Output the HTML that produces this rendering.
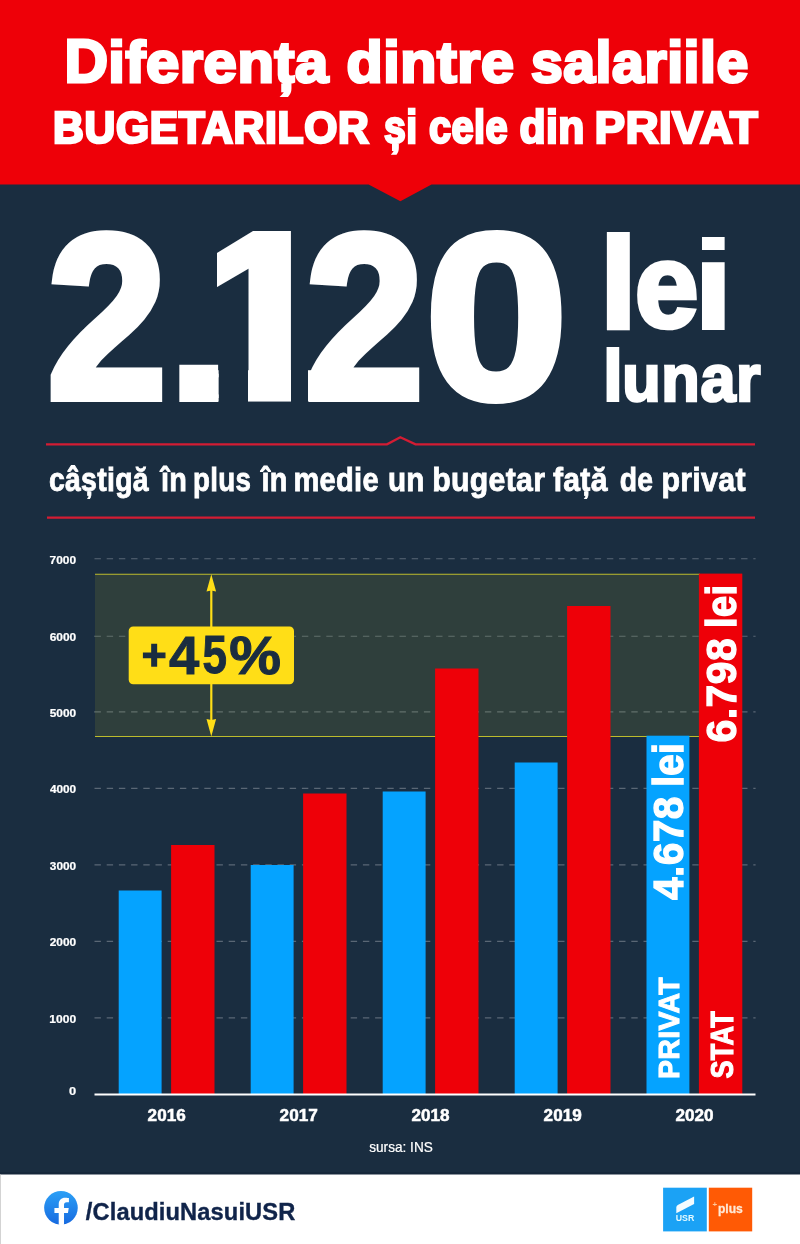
<!DOCTYPE html>
<html lang="ro"><head><meta charset="utf-8"><title>Diferența dintre salariile bugetarilor și cele din privat</title>
<style>
html,body{margin:0;padding:0;background:#1a2d40;}
body{width:800px;height:1244px;overflow:hidden;}
svg{display:block;font-family:"Liberation Sans",Arial,Helvetica,sans-serif;font-weight:bold;}
</style></head><body>
<svg width="800" height="1244" viewBox="0 0 800 1244">
<rect width="800" height="1244" fill="#1a2d40"/>
<!-- header -->
<path d="M0 0H800V184.6H431.5L400.4 201.3L368.6 184.6H0Z" fill="#ee0008"/>
<text fill="#fff" stroke="#fff" stroke-linejoin="miter"><tspan x="64.39" y="81.96" font-size="61.62" textLength="43.55" lengthAdjust="spacingAndGlyphs" stroke-width="3.08">D</tspan><tspan x="108.21" y="82.06" font-size="57.59" textLength="220.74" lengthAdjust="spacingAndGlyphs" stroke-width="2.88" letter-spacing="0.58">iferența</tspan> <tspan x="346.51" y="82.06" font-size="57.59" textLength="168.04" lengthAdjust="spacingAndGlyphs" stroke-width="2.88" letter-spacing="0.58">dintre</tspan> <tspan x="530.93" y="82.06" font-size="57.59" textLength="217.94" lengthAdjust="spacingAndGlyphs" stroke-width="2.88" letter-spacing="0.58">salariile</tspan></text>
<text fill="#fff" stroke="#fff" stroke-linejoin="miter"><tspan x="53.1" y="142.65" font-size="45.07" textLength="316.22" lengthAdjust="spacingAndGlyphs" stroke-width="2.7" letter-spacing="0.68">BUGETARILOR</tspan> <tspan x="384" y="142.98" font-size="45.6" textLength="33.41" lengthAdjust="spacingAndGlyphs" stroke-width="2.51" letter-spacing="0.46">și</tspan> <tspan x="429" y="142.98" font-size="45.6" textLength="79.01" lengthAdjust="spacingAndGlyphs" stroke-width="2.51" letter-spacing="0.46">cele</tspan> <tspan x="519.43" y="142.98" font-size="45.6" textLength="65.4" lengthAdjust="spacingAndGlyphs" stroke-width="2.51" letter-spacing="0.46">din</tspan> <tspan x="594.84" y="142.65" font-size="45.07" textLength="163.45" lengthAdjust="spacingAndGlyphs" stroke-width="2.7" letter-spacing="0.68">PRIVAT</tspan></text>
<!-- big number -->
<clipPath id="c1"><path clip-rule="evenodd" d="M0 205H800V430H0Z M218.6 340H248V415H218.6Z M291 340H308V415H291Z M190 225H217V300H190Z"/></clipPath>
<text fill="#fff" stroke="#fff" stroke-linejoin="miter" clip-path="url(#c1)"><tspan x="46.9" y="398.09" font-size="234.55" textLength="120.03" lengthAdjust="spacingAndGlyphs" stroke-width="8.21">2</tspan><tspan x="160.63" y="402" font-size="250" textLength="76.57" lengthAdjust="spacingAndGlyphs" stroke="none">.</tspan><tspan x="193.32" y="398.04" font-size="237.5" textLength="140.88" lengthAdjust="spacingAndGlyphs" stroke-width="7.12">1</tspan><tspan x="305.14" y="398.09" font-size="234.55" textLength="118.74" lengthAdjust="spacingAndGlyphs" stroke-width="8.21">2</tspan><tspan x="424.47" y="398.2" font-size="235.79" textLength="143.81" lengthAdjust="spacingAndGlyphs" stroke-width="7.07">0</tspan></text>
<text fill="#fff" stroke="#fff" stroke-linejoin="miter"><tspan x="595.32" y="330" font-size="135.55" textLength="46.36" lengthAdjust="spacingAndGlyphs" stroke="none">l</tspan><tspan x="634.92" y="327.46" font-size="117.95" textLength="63.34" lengthAdjust="spacingAndGlyphs" stroke-width="4.72">e</tspan><tspan x="690.48" y="330" font-size="127.98" textLength="45.75" lengthAdjust="spacingAndGlyphs" stroke="none">i</tspan></text>
<text fill="#fff" stroke="#fff" stroke-linejoin="miter"><tspan x="600.2" y="402" font-size="75.69" textLength="25.41" lengthAdjust="spacingAndGlyphs" stroke="none">l</tspan><tspan x="622.27" y="400.52" font-size="65.86" textLength="138.96" lengthAdjust="spacingAndGlyphs" stroke-width="2.63" letter-spacing="0.66">unar</tspan></text>
<!-- subtitle rules -->
<path d="M46 444.3H387L400.3 437.2L415.5 444.3H755" fill="none" stroke="#d41c33" stroke-width="2.3"/>
<path d="M47 517.7H755" fill="none" stroke="#d41c33" stroke-width="2.3"/>
<text fill="#fff" stroke="#fff" stroke-linejoin="miter"><tspan x="48.95" y="491.4" font-size="34.08" textLength="99.95" lengthAdjust="spacingAndGlyphs" stroke-width="0.85" letter-spacing="0.34">câștigă</tspan> <tspan x="161.04" y="491.4" font-size="34.08" textLength="26.15" lengthAdjust="spacingAndGlyphs" stroke-width="0.85" letter-spacing="0.34">în</tspan> <tspan x="193.02" y="491.4" font-size="34.08" textLength="58.06" lengthAdjust="spacingAndGlyphs" stroke-width="0.85" letter-spacing="0.34">plus</tspan> <tspan x="261.54" y="491.4" font-size="34.08" textLength="26.15" lengthAdjust="spacingAndGlyphs" stroke-width="0.85" letter-spacing="0.34">în</tspan> <tspan x="293.45" y="491.4" font-size="34.08" textLength="85.43" lengthAdjust="spacingAndGlyphs" stroke-width="0.85" letter-spacing="0.34">medie</tspan> <tspan x="387.92" y="491.4" font-size="34.08" textLength="36.81" lengthAdjust="spacingAndGlyphs" stroke-width="0.85" letter-spacing="0.34">un</tspan> <tspan x="432.29" y="491.4" font-size="34.08" textLength="113.03" lengthAdjust="spacingAndGlyphs" stroke-width="0.85" letter-spacing="0.34">bugetar</tspan> <tspan x="552.9" y="491.4" font-size="34.08" textLength="54.85" lengthAdjust="spacingAndGlyphs" stroke-width="0.85" letter-spacing="0.34">față</tspan> <tspan x="619.75" y="491.4" font-size="34.08" textLength="33.61" lengthAdjust="spacingAndGlyphs" stroke-width="0.85" letter-spacing="0.34">de</tspan> <tspan x="661.38" y="491.4" font-size="34.08" textLength="84.52" lengthAdjust="spacingAndGlyphs" stroke-width="0.85" letter-spacing="0.34">privat</tspan></text>
<!-- chart -->
<g stroke="#5a6775" stroke-width="1.1" stroke-dasharray="6.4 5.8">
<path d="M94.5 1017.9H755.6"/>
<path d="M94.5 941.4H755.6"/>
<path d="M94.5 864.9H755.6"/>
<path d="M94.5 788.4H755.6"/>
<path d="M94.5 711.9H755.6"/>
<path d="M94.5 636.3H755.6"/>
<path d="M94.5 558.7H755.6"/>
</g>
<rect x="95" y="574.2" width="605" height="162.3" fill="#2f3f3c"/>
<g stroke="#62706b" stroke-width="1.1" stroke-dasharray="6.4 5.8">
<path d="M94.5 711.9H700"/>
<path d="M94.5 636.3H700"/>
</g>
<path d="M95 574.2H700M95 736.5H700" stroke="#bdbc2c" stroke-width="1.1" fill="none"/>
<text fill="#fff" stroke="#fff" stroke-linejoin="miter"><tspan x="49.6" y="563.76" font-size="11.83" textLength="26.57" lengthAdjust="spacingAndGlyphs" stroke-width="0.24">7000</tspan></text>
<text fill="#fff" stroke="#fff" stroke-linejoin="miter"><tspan x="49.68" y="641.36" font-size="11.83" textLength="26.49" lengthAdjust="spacingAndGlyphs" stroke-width="0.24">6000</tspan></text>
<text fill="#fff" stroke="#fff" stroke-linejoin="miter"><tspan x="49.76" y="716.96" font-size="11.83" textLength="26.41" lengthAdjust="spacingAndGlyphs" stroke-width="0.24">5000</tspan></text>
<text fill="#fff" stroke="#fff" stroke-linejoin="miter"><tspan x="49.92" y="793.46" font-size="11.83" textLength="26.25" lengthAdjust="spacingAndGlyphs" stroke-width="0.24">4000</tspan></text>
<text fill="#fff" stroke="#fff" stroke-linejoin="miter"><tspan x="49.84" y="869.96" font-size="11.83" textLength="26.33" lengthAdjust="spacingAndGlyphs" stroke-width="0.24">3000</tspan></text>
<text fill="#fff" stroke="#fff" stroke-linejoin="miter"><tspan x="49.72" y="946.46" font-size="11.83" textLength="26.45" lengthAdjust="spacingAndGlyphs" stroke-width="0.24">2000</tspan></text>
<text fill="#fff" stroke="#fff" stroke-linejoin="miter"><tspan x="49.36" y="1022.96" font-size="11.83" textLength="26.82" lengthAdjust="spacingAndGlyphs" stroke-width="0.24">1000</tspan></text>
<text fill="#fff" stroke="#fff" stroke-linejoin="miter"><tspan x="69.01" y="1094.96" font-size="11.83" textLength="7.17" lengthAdjust="spacingAndGlyphs" stroke-width="0.24">0</tspan></text>
<rect x="118.7" y="890.5" width="42.9" height="203.9" fill="#05a3ff"/>
<rect x="171.1" y="845" width="43.4" height="249.4" fill="#ee0008"/>
<rect x="250.7" y="865" width="42.9" height="229.4" fill="#05a3ff"/>
<rect x="303.1" y="793.5" width="43.4" height="300.9" fill="#ee0008"/>
<rect x="382.7" y="791.5" width="42.9" height="302.9" fill="#05a3ff"/>
<rect x="435.1" y="668.5" width="43.4" height="425.9" fill="#ee0008"/>
<rect x="514.7" y="762.5" width="42.9" height="331.9" fill="#05a3ff"/>
<rect x="567.1" y="606" width="43.4" height="488.4" fill="#ee0008"/>
<rect x="646.5" y="735.7" width="42.9" height="358.7" fill="#05a3ff"/>
<rect x="698.9" y="573.6" width="43.4" height="520.8" fill="#ee0008"/>
<path d="M94.5 1094.4H755.5" stroke="#fff" stroke-width="2"/>
<text fill="#fff" stroke="#fff" stroke-linejoin="miter"><tspan x="147.61" y="1121.3" font-size="17.24" textLength="38.11" lengthAdjust="spacingAndGlyphs" stroke-width="0.52">2016</tspan></text>
<text fill="#fff" stroke="#fff" stroke-linejoin="miter"><tspan x="279.61" y="1121.3" font-size="17.24" textLength="38.22" lengthAdjust="spacingAndGlyphs" stroke-width="0.52">2017</tspan></text>
<text fill="#fff" stroke="#fff" stroke-linejoin="miter"><tspan x="411.61" y="1121.3" font-size="17.24" textLength="37.99" lengthAdjust="spacingAndGlyphs" stroke-width="0.52">2018</tspan></text>
<text fill="#fff" stroke="#fff" stroke-linejoin="miter"><tspan x="543.61" y="1121.3" font-size="17.24" textLength="38.11" lengthAdjust="spacingAndGlyphs" stroke-width="0.52">2019</tspan></text>
<text fill="#fff" stroke="#fff" stroke-linejoin="miter"><tspan x="675.41" y="1121.3" font-size="17.24" textLength="38.17" lengthAdjust="spacingAndGlyphs" stroke-width="0.52">2020</tspan></text>
<g fill="#ffde17" stroke="none">
<rect x="210.2" y="588" width="2.2" height="136"/>
<path d="M211.3 574.2L216.1 591.6L211.3 590.6L206.5 591.6Z"/>
<path d="M211.3 736.4L216.1 719L211.3 720L206.5 719Z"/>
<rect x="128.7" y="626.5" width="165.3" height="57.7" rx="4.5" ry="4.5"/>
</g>
<text fill="#1a2d40" stroke="#1a2d40" stroke-linejoin="miter"><tspan x="141.67" y="669.14" font-size="41.67" textLength="24.86" lengthAdjust="spacingAndGlyphs" stroke-width="1.25">+</tspan><tspan x="169.14" y="673.64" font-size="53.32" textLength="30.34" lengthAdjust="spacingAndGlyphs" stroke-width="0.8">4</tspan><tspan x="202.42" y="673.44" font-size="52.78" textLength="24.44" lengthAdjust="spacingAndGlyphs" stroke-width="1.06">5</tspan><tspan x="229.22" y="673.61" font-size="53.23" textLength="51.7" lengthAdjust="spacingAndGlyphs" stroke-width="1.06">%</tspan></text>
<text fill="#fff" stroke="#fff" stroke-linejoin="miter" transform="rotate(-90)"><tspan x="-742.42" y="736.2" font-size="42.16" textLength="104.47" lengthAdjust="spacingAndGlyphs" stroke-width="1.26" letter-spacing="0.42">6.798</tspan> <tspan x="-628.04" y="736.2" font-size="41.97" textLength="43.6" lengthAdjust="spacingAndGlyphs" stroke-width="1.47" letter-spacing="0.42">lei</tspan></text>
<text fill="#fff" stroke="#fff" stroke-linejoin="miter" transform="rotate(-90)"><tspan x="-900" y="682.8" font-size="42.16" textLength="103.65" lengthAdjust="spacingAndGlyphs" stroke-width="1.26" letter-spacing="0.42">4.678</tspan> <tspan x="-786.85" y="682.8" font-size="41.97" textLength="43.93" lengthAdjust="spacingAndGlyphs" stroke-width="1.47" letter-spacing="0.42">lei</tspan></text>
<text fill="#fff" stroke="#fff" stroke-linejoin="miter" transform="rotate(-90)"><tspan x="-1079.03" y="678.89" font-size="30.41" textLength="102.08" lengthAdjust="spacingAndGlyphs" stroke-width="1.06" letter-spacing="0.3">PRIVAT</tspan></text>
<text fill="#fff" stroke="#fff" stroke-linejoin="miter" transform="rotate(-90)"><tspan x="-1078.58" y="733.29" font-size="30.69" textLength="67.65" lengthAdjust="spacingAndGlyphs" stroke-width="1.07" letter-spacing="0.31">STAT</tspan></text>
<text fill="#fff" stroke="#fff" stroke-linejoin="miter"><tspan x="369.23" y="1151.91" font-size="13.93" textLength="63.59" lengthAdjust="spacingAndGlyphs" stroke-width="0.21" font-weight="normal">sursa: INS</tspan></text>
<!-- footer -->
<rect x="0" y="1172" width="800" height="3" fill="#16273a"/>
<rect x="0" y="1174.5" width="800" height="70" fill="#fff"/>
<rect x="0" y="1174.5" width="0.9" height="70" fill="#cfcfcf"/>
<defs><linearGradient id="fb" x1="0" y1="0" x2="0" y2="1"><stop offset="0" stop-color="#2ca0f6"/><stop offset="1" stop-color="#176ae0"/></linearGradient></defs>
<circle cx="60.95" cy="1207.85" r="16.8" fill="url(#fb)"/>
<path transform="translate(44.5 1191.1) scale(0.0660)" fill="#fff" d="M355.6 330l11.4-74.2h-71.2v-48.2c0-20.300 9.900-40.100 41.800-40.100H370V104.300s-29.400-5-57.500-5c-58.600 0-96.900 35.500-96.900 99.900v56.600h-65.200V330h65.200v179.400a258.400 258.400 0 0 0 80.200 0V330z"/>
<text fill="#10244a" stroke="#10244a" stroke-linejoin="miter"><tspan x="85.8" y="1220.39" font-size="24.53" textLength="209.65" lengthAdjust="spacingAndGlyphs" stroke-width="0.37" letter-spacing="0.12">/ClaudiuNasuiUSR</tspan></text>
<rect x="663.1" y="1187.7" width="43.7" height="43.7" fill="#1ba2f5"/>
<rect x="708.8" y="1187.7" width="43.4" height="43.7" fill="#ff5a05"/>
<path d="M676.3 1213.2V1207.4Q676.3 1205.8 677.8 1205L694.1 1196.4V1204.1Z" fill="#f4fbff"/>
<text fill="#e4faff"><tspan x="675.77" y="1221.11" font-size="8.86" textLength="18.51" lengthAdjust="spacingAndGlyphs" stroke="none">USR</tspan></text>
<text><tspan fill="#ffc79a"><tspan x="712.45" y="1207.4" font-size="7.84" textLength="4.67" lengthAdjust="spacingAndGlyphs" stroke="none">+</tspan></tspan><tspan fill="#ffe9d6" stroke="#ffe9d6"><tspan x="717.91" y="1213.27" font-size="13.26" textLength="24.88" lengthAdjust="spacingAndGlyphs" stroke-width="0.27">plus</tspan></tspan></text>
</svg>
</body></html>
